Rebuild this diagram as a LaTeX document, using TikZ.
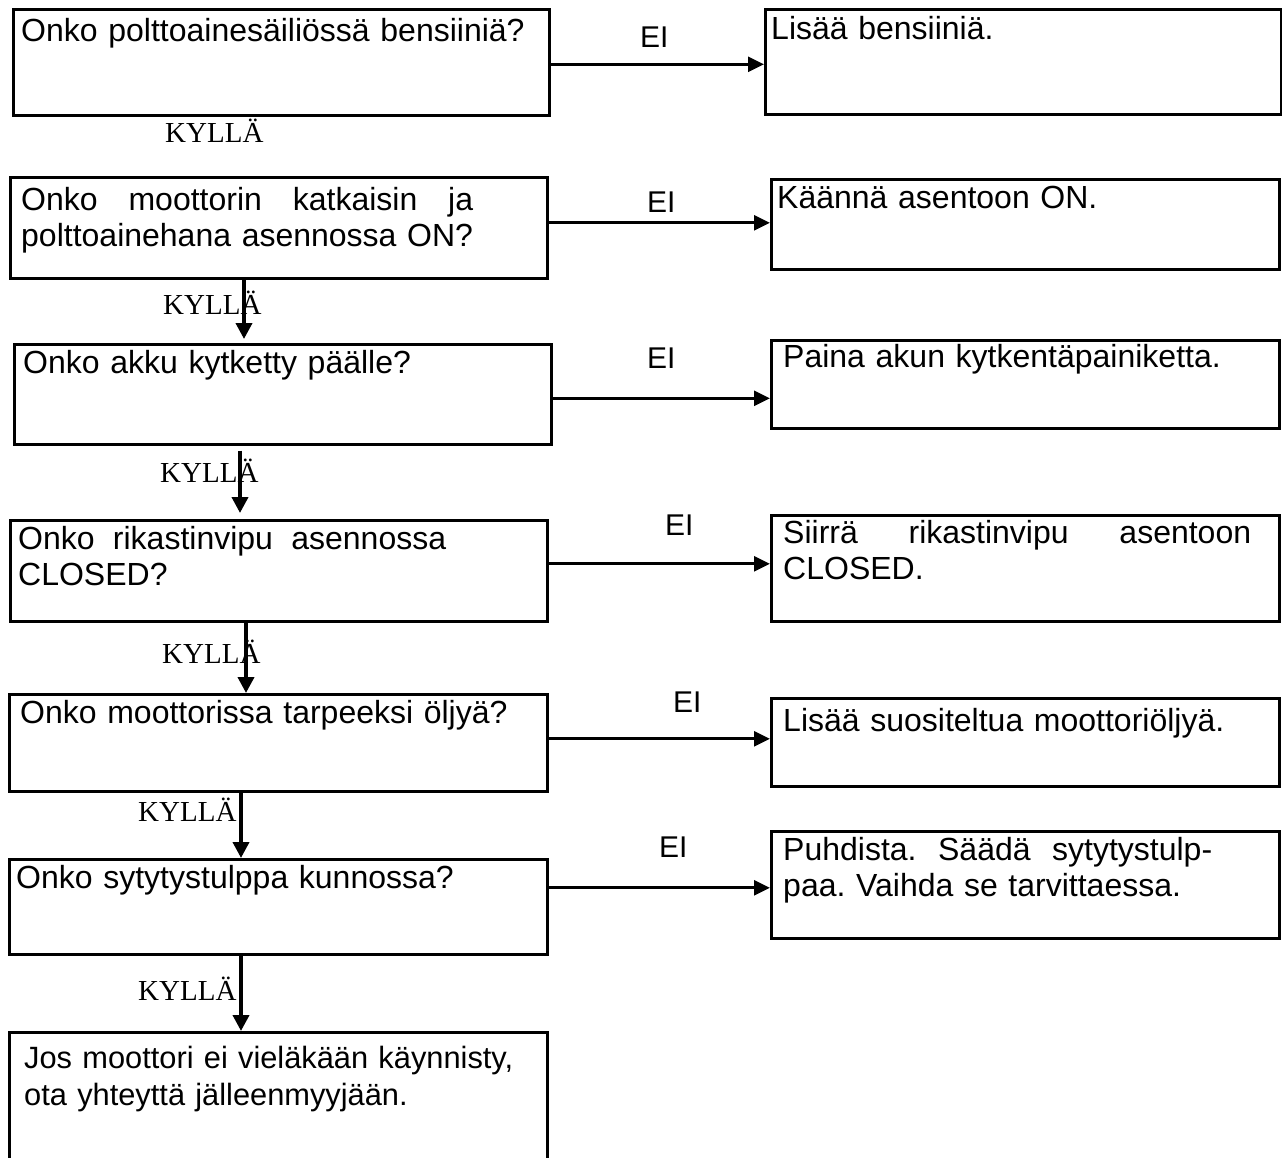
\documentclass[tikz,border=0pt]{standalone}
\usepackage{fontspec}
\setmainfont{Liberation Serif}
\setsansfont{Liberation Sans}
\usetikzlibrary{positioning,arrows.meta,calc}
\newcommand{\boxfont}{\sffamily\fontsize{32}{36}\selectfont}
\newcommand{\kyllafont}{\rmfamily\fontsize{29}{32}\selectfont}

\begin{document}
\frenchspacing
\begin{tikzpicture}[x=1pt,y=-1pt,
  qbox/.style={draw,line width=2.6pt,anchor=north west,inner sep=0pt},
  qtext/.style={anchor=base west,inner sep=0pt,font=\boxfont,align=left,text width=700pt},
  noarrow/.style={-{Triangle[length=16pt,width=15pt]},line width=2.8pt},
  yesarrow/.style={-{Triangle[length=16pt,width=16pt]},line width=3.8pt},
  eilabel/.style={anchor=base west,inner sep=0pt,font=\sffamily\fontsize{30}{32}\selectfont},
  kyllalabel/.style={anchor=base west,inner sep=0pt,font=\kyllafont}]
\useasboundingbox (0,0) rectangle (1282,1158);
\clip (0,0) rectangle (1282,1158);
% question boxes (left column)
\node[qbox,minimum width=536pt,minimum height=106pt] (q1) at (12,8) {};
\node[qbox,minimum width=537pt,minimum height=101pt] (q2) at (9,176) {};
\node[qbox,minimum width=537pt,minimum height=100pt] (q3) at (13,343) {};
\node[qbox,minimum width=537pt,minimum height=101pt] (q4) at (9,519) {};
\node[qbox,minimum width=538pt,minimum height=97pt] (q5) at (8,693) {};
\node[qbox,minimum width=538pt,minimum height=95pt] (q6) at (8,858) {};
\node[qbox,minimum width=538pt,minimum height=150pt] (q7) at (8,1031) {};
% answer boxes (right column)
\node[qbox,minimum width=516pt,minimum height=105pt] (a1) at (764,8) {};
\node[qbox,minimum width=508pt,minimum height=90pt] (a2) at (770,178) {};
\node[qbox,minimum width=508pt,minimum height=88pt] (a3) at (770,339) {};
\node[qbox,minimum width=508pt,minimum height=106pt] (a4) at (770,514) {};
\node[qbox,minimum width=508pt,minimum height=88pt] (a5) at (770,697) {};
\node[qbox,minimum width=508pt,minimum height=107pt] (a6) at (770,830) {};
% box texts
\node[qtext] (q1t) at (21,42) {Onko polttoainesäiliössä bensiiniä?};
\node[qtext,text width=452pt] (q2t) at (21,211) {Onko\hfill moottorin\hfill katkaisin\hfill ja\\polttoainehana asennossa ON?};
\node[qtext] (q3t) at (23,373) {Onko akku kytketty päälle?};
\node[qtext,text width=428pt] (q4t) at (18,549) {Onko\hfill rikastinvipu\hfill asennossa\\CLOSED?};
\node[qtext] (q5t) at (20,723) {Onko moottorissa tarpeeksi öljyä?};
\node[qtext] (q6t) at (16,888) {Onko sytytystulppa kunnossa?};
\node[qtext,font=\sffamily\fontsize{30.8}{37}\selectfont] (q7t) at (24,1068) {Jos moottori ei vieläkään käynnisty,\\ota yhteyttä jälleenmyyjään.};
\node[qtext] (a1t) at (771,40) {Lisää bensiiniä.};
\node[qtext] (a2t) at (777,209) {Käännä asentoon ON.};
\node[qtext] (a3t) at (783,367) {Paina akun kytkentäpainiketta.};
\node[qtext,text width=468pt] (a4t) at (783,543) {Siirrä\hfill rikastinvipu\hfill asentoon\\CLOSED.};
\node[qtext] (a5t) at (783,731) {Lisää suositeltua moottoriöljyä.};
\node[qtext,text width=429pt] (a6t) at (783,860) {Puhdista.\hfill Säädä\hfill sytytystulp-\\paa. Vaihda se tarvittaessa.};
% EI branches
\draw[noarrow] ([yshift=-2pt]q1.east) -- ([yshift=-2pt]q1.east -| a1.west);
\draw[noarrow] ([yshift=5pt]q2.east) -- ([yshift=5pt]q2.east -| a2.west);
\draw[noarrow] ([yshift=-4pt]q3.east) -- ([yshift=-4pt]q3.east -| a3.west);
\draw[noarrow] ([yshift=7pt]q4.east) -- ([yshift=7pt]q4.east -| a4.west);
\draw[noarrow] ([yshift=4pt]q5.east) -- ([yshift=4pt]q5.east -| a5.west);
\draw[noarrow] ([yshift=19pt]q6.east) -- ([yshift=19pt]q6.east -| a6.west);
\node[eilabel] (e1) at (640,48) {EI};
\node[eilabel] (e2) at (647,213) {EI};
\node[eilabel] (e3) at (647,368) {EI};
\node[eilabel] (e4) at (665,535) {EI};
\node[eilabel] (e5) at (673,712) {EI};
\node[eilabel] (e6) at (659,857) {EI};
% KYLLÄ branches
\node[kyllalabel] (k1) at (165,143) {KYLLÄ};
\node[kyllalabel] (k2) at (163,314) {KYLLÄ};
\node[kyllalabel] (k3) at (160,482) {KYLLÄ};
\node[kyllalabel] (k4) at (162,663) {KYLLÄ};
\node[kyllalabel] (k5) at (138,821) {KYLLÄ};
\node[kyllalabel] (k6) at (138,1000) {KYLLÄ};
\draw[yesarrow,shorten >=4pt] ([xshift=235pt]q2.south west) -- ([xshift=235pt]q2.south west |- q3.north);
\draw[yesarrow,shorten <=5pt,shorten >=6pt] ([xshift=227pt]q3.south west) -- ([xshift=227pt]q3.south west |- q4.north);
\draw[yesarrow] ([xshift=237pt]q4.south west) -- ([xshift=237pt]q4.south west |- q5.north);
\draw[yesarrow] ([xshift=233pt]q5.south west) -- ([xshift=233pt]q5.south west |- q6.north);
\draw[yesarrow] ([xshift=233pt]q6.south west) -- ([xshift=233pt]q6.south west |- q7.north);
\end{tikzpicture}
\end{document}
